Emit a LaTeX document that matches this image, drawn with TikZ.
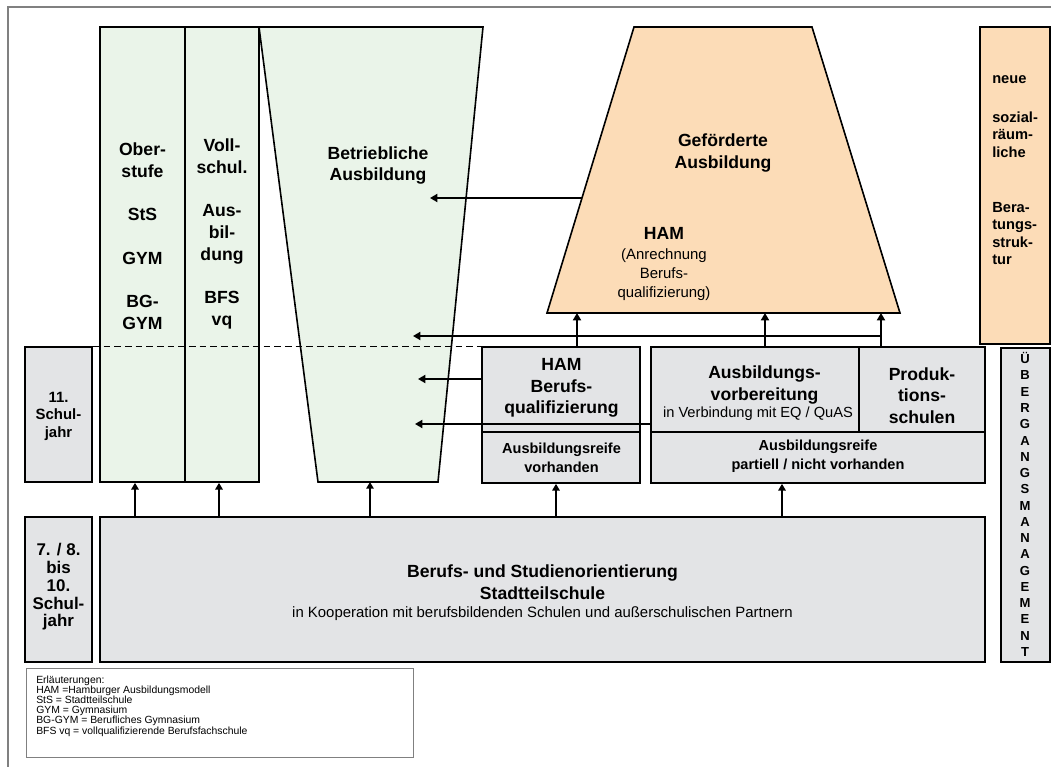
\documentclass[tikz,border=0pt]{standalone}
\usepackage{fontspec}
\setmainfont{Liberation Sans}
\usetikzlibrary{arrows.meta,fit}
\definecolor{gfill}{HTML}{EAF4E9}
\definecolor{ofill}{HTML}{FCDCB7}
\definecolor{bfill}{HTML}{E3E4E6}
\definecolor{framegray}{HTML}{808080}
\begin{document}
\begin{tikzpicture}[x=0.75pt,y=-0.75pt,
  box/.style={draw=black, line width=1.3pt, inner sep=0pt},
  gbox/.style={box, fill=gfill},
  obox/.style={box, fill=ofill},
  sbox/.style={box, fill=bfill},
  gshape/.style={draw=black, line width=1.2pt, fill=gfill},
  oshape/.style={draw=black, line width=1.2pt, fill=ofill},
  divline/.style={draw=black, line width=1.3pt},
  bigt/.style={font=\bfseries\fontsize{13.2}{16.3}\selectfont, align=center, inner sep=0pt},
  yeart/.style={font=\bfseries\fontsize{12.7}{13.3}\selectfont, align=center, inner sep=0pt},
  midt/.style={font=\bfseries\fontsize{11.2}{13.1}\selectfont, align=center, inner sep=0pt},
  sidet/.style={font=\bfseries\fontsize{11}{13.1}\selectfont, align=left, inner sep=0pt, anchor=west},
  smallt/.style={font=\bfseries\fontsize{10.9}{14.2}\selectfont, align=center, inner sep=0pt},
  regt/.style={font=\fontsize{11.2}{14.3}\selectfont, align=center, inner sep=0pt},
  uebt/.style={font=\bfseries\fontsize{9.8}{12.2}\selectfont, align=center, inner sep=0pt},
  legt/.style={font=\fontsize{7.8}{7.6}\selectfont, align=left, inner sep=0pt, anchor=west},
  arr/.style={-{Triangle[length=5.5pt,width=6pt]}, line width=1.6pt},
  uarr/.style={-{Triangle[length=5pt,width=5.5pt]}, line width=1.3pt},
  dashline/.style={draw=black, line width=0.9pt, dash pattern=on 5pt off 3pt}
]
\fill[white] (0,0) rectangle (1051,767);
\useasboundingbox (0,0) rectangle (1051,767);

% outer frame
\draw[framegray, line width=0.8pt] (8,767) -- (8,7) -- (1051,7);

% Betriebliche Ausbildung (trapezoid)
\coordinate (bt-nw) at (259,27);
\coordinate (bt-ne) at (483,27);
\coordinate (bt-se) at (438,482);
\coordinate (bt-sw) at (318,482);
\draw[gshape] (bt-nw) -- (bt-ne) -- (bt-se) -- (bt-sw) -- cycle;

% green columns
\node[gbox, fit={(100,27) (185,482)}] (ober) {};
\node[gbox, fit={(185,27) (259,482)}] (voll) {};

% Geförderte Ausbildung (trapezoid)
\coordinate (gf-nw) at (634,27);
\coordinate (gf-ne) at (812,27);
\coordinate (gf-se) at (900,313);
\coordinate (gf-sw) at (547,313);
\draw[oshape] (gf-nw) -- (gf-ne) -- (gf-se) -- (gf-sw) -- cycle;

% right boxes
\node[obox, fit={(980,27) (1050,344)}] (neu) {};
\node[sbox, fit={(1001,348) (1050,662)}] (ueb) {};

% year boxes
\node[sbox, fit={(25,347) (92,482)}] (elf) {};
\node[sbox, fit={(25,517) (92,662)}] (sieben) {};

% Stadtteilschule
\node[sbox, fit={(100,517) (985,662)}] (stadt) {};

% HAM Berufsqualifizierung
\node[sbox, fit={(482,347) (640,483)}] (hamb) {};
% Ausbildungsvorbereitung / Produktionsschulen
\node[sbox, fit={(651,347) (985,483)}] (avb) {};

\coordinate (dv) at (0,432);
\coordinate (pv) at (859,0);
\draw[divline] (hamb.west |- dv) -- (hamb.east |- dv);
\draw[divline] (avb.west |- dv) -- (avb.east |- dv);
\draw[divline] (avb.north -| pv) -- (pv |- dv);

% legend box
\node[draw=framegray, line width=0.7pt, inner sep=0pt, fit={(26,668) (413,757)}] (leg) {};

% dashed line
\draw[dashline] (elf.north east) -- (hamb.north west);

% ---------- texts ----------
\node[bigt] (tOber) at (142.5,236) {Ober-\\stufe\\[16.3pt]StS\\[16.3pt]GYM\\[16.3pt]BG-\\GYM};
\node[bigt] (tVoll) at (222,234) {Voll-\\schul.\\[16.3pt]Aus-\\bil-\\dung\\[16.3pt]BFS\\vq};
\node[bigt] (tBetr) at (378,165.5) {Betriebliche\\Ausbildung};
\node[bigt] (tGef) at (723,153) {Geförderte\\Ausbildung};
\node[bigt] (tHAMo) at (664,233) {HAM};
\node[regt] (tAnr) at (664,274.5) {(Anrechnung\\Berufs-\\qualifizierung)};

\node[sidet] (tNeue) at (992,80) {neue};
\node[sidet] (tSoz) at (992,134.5) {sozial-\\räum-\\liche};
\node[sidet] (tBer) at (992,233.5) {Bera-\\tungs-\\struk-\\tur};

\node[uebt] (tUeb) at (1025,504.5) {Ü\\B\\E\\R\\G\\A\\N\\G\\S\\M\\A\\N\\A\\G\\E\\M\\E\\N\\T};

\node[midt] (tElf) at (58.5,416) {11.\\Schul-\\jahr};
\node[yeart] (tSieben) at (58.5,587) {7. / 8.\\bis\\10.\\Schul-\\jahr};

\node[bigt] (tHAM) at (561.5,388) {HAM\\Berufs-\\qualifizierung};
\node[smallt] (tReifeA) at (561.5,457.5) {Ausbildungsreife\\vorhanden};

\node[bigt] (tAV) at (764.5,385) {Ausbildungs-\\vorbereitung};
\node[font=\fontsize{11}{13}\selectfont, inner sep=0pt] (tVerb) at (758,414) {in Verbindung mit EQ / QuAS};
\node[bigt] (tProd) at (922,395.5) {Produk-\\tions-\\schulen};
\node[smallt] (tReifeB) at (818,456.5) {Ausbildungsreife\\partiell / nicht vorhanden};

\node[bigt] (tStadt) at (542.5,582) {Berufs- und Studienorientierung\\Stadtteilschule};
\node[regt] (tKoop) at (542.5,613.5) {in Kooperation mit berufsbildenden Schulen und außerschulischen Partnern};

\node[legt] (tLeg) at (36,706) {Erläuterungen:\\HAM =Hamburger Ausbildungsmodell\\StS = Stadtteilschule\\GYM = Gymnasium\\BG-GYM = Berufliches Gymnasium\\BFS vq = vollqualifizierende Berufsfachschule};

% ---------- connectors ----------
\coordinate (gfL) at (582,198);
\coordinate (gfT) at (430,198);
\draw[arr] (gfL) -- (gfT);

\coordinate (u1) at (577,0);
\coordinate (u2) at (765,0);
\coordinate (u3) at (881,0);
\coordinate (bus) at (881,336);
\coordinate (busT) at (413,336);
\draw[arr] (bus) -- (busT);
\draw[arr] (hamb.north -| u1) -- (u1 |- gf-sw);
\draw[arr] (avb.north -| u2) -- (u2 |- gf-sw);
\draw[arr] (avb.north -| u3) -- (u3 |- gf-sw);

\coordinate (a3) at (418,379);
\draw[arr] (hamb.west |- a3) -- (a3);
\coordinate (a4) at (415,424);
\draw[arr] (avb.west |- a4) -- (a4);

\coordinate (b1) at (135,0);
\coordinate (b2) at (219,0);
\coordinate (b3) at (370,0);
\coordinate (b4) at (556,0);
\coordinate (b5) at (782,0);
\draw[uarr] (stadt.north -| b1) -- (ober.south -| b1);
\draw[uarr] (stadt.north -| b2) -- (voll.south -| b2);
\draw[uarr] (stadt.north -| b3) -- (b3 |- bt-sw);
\draw[uarr] (stadt.north -| b4) -- (hamb.south -| b4);
\draw[uarr] (stadt.north -| b5) -- (avb.south -| b5);
\end{tikzpicture}
\end{document}
